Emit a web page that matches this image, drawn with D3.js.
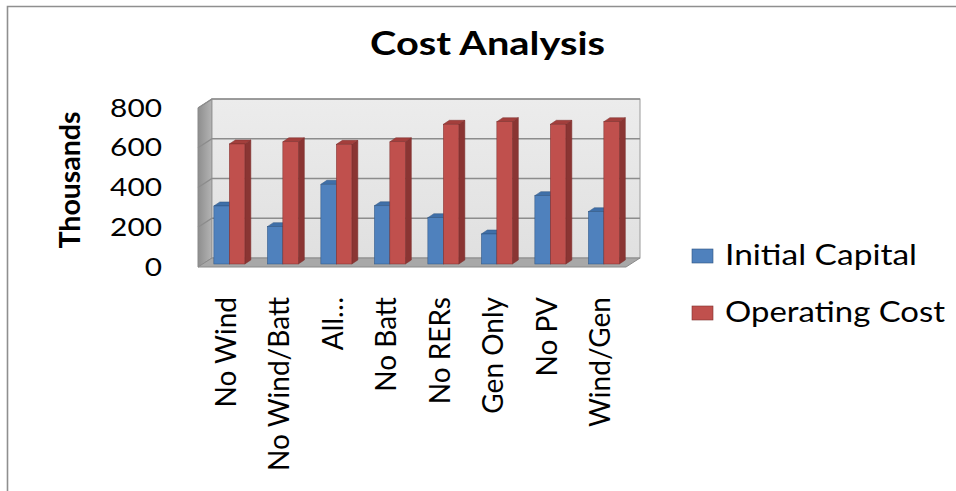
<!DOCTYPE html>
<html>
<head>
<meta charset="utf-8">
<script src="https://cdn.jsdelivr.net/npm/d3@7"></script>
<style>
  body { margin: 0; background: #fff; }
  text { font-family: Lato, "Open Sans", sans-serif; fill: #000; }
</style>
</head>
<body>
<script>
const width = 956;
const height = 491;

// data
const categories = ['No Wind', 'No Wind/Batt', 'All…', 'No Batt', 'No RERs', 'Gen Only', 'No PV', 'Wind/Gen'];
const initialCapital = [292, 188, 401, 293, 233, 151, 344, 263];
const operatingCost = [604, 615, 602, 615, 703, 716, 703, 716];
const seriesNames = ['Initial Capital', 'Operating Cost'];
const yTicks = [0, 200, 400, 600, 800];

const seriesColors = {
    'Initial Capital': { front: '#4f81bd', side: '#35608f', top: '#3f6fa8', edge: '#2f5480' },
    'Operating Cost': { front: '#c0504d', side: '#8a3533', top: '#a33f3c', edge: '#7d2f2d' }
};

// 3d geometry of the plot box
const wallDx = 14, wallDy = -9;       // depth of the walls
const barDx = 4.6, barDy = -3;        // bar plane offset inside the box
const barDepthX = 6, barDepthY = -4;  // visible bar thickness

const xScale = d3.scaleBand()
    .domain(categories)
    .range([198, 626]);
const xInner = d3.scaleBand()
    .domain(seriesNames)
    .range([0, xScale.bandwidth()])
    .paddingOuter(0.726);
const yScale = d3.scaleLinear()
    .domain([0, 800])
    .range([267, 108]);

const svg = d3.select('body')
    .append('svg')
        .attr('width', width)
        .attr('height', height);

const defs = svg.append('defs');
const sideGrad = defs.append('linearGradient').attr('id', 'sideWall')
    .attr('x1', 0).attr('y1', 0).attr('x2', 1).attr('y2', 0);
sideGrad.append('stop').attr('offset', '0%').attr('stop-color', '#8e8e8e');
sideGrad.append('stop').attr('offset', '100%').attr('stop-color', '#b4b4b4');
const backGrad = defs.append('linearGradient').attr('id', 'backWall')
    .attr('x1', 0).attr('y1', 0).attr('x2', 0).attr('y2', 1);
backGrad.append('stop').attr('offset', '0%').attr('stop-color', '#ececec');
backGrad.append('stop').attr('offset', '100%').attr('stop-color', '#e0e0e0');

// outer frame
svg.append('path')
    .attr('d', `M7.5,${height} V6.5 H${width}`)
    .attr('fill', 'none')
    .attr('stroke', '#8f8f8f')
    .attr('stroke-width', 1.6);

const x0 = xScale.range()[0], x1 = xScale.range()[1];
const y0 = yScale(0), yTop = yScale(800);

// side wall
svg.append('polygon')
    .attr('points', [[x0, yTop], [x0 + wallDx, yTop + wallDy], [x0 + wallDx, y0 + wallDy], [x0, y0]].join(' '))
    .attr('fill', 'url(#sideWall)')
    .attr('stroke', '#8a8a8a')
    .attr('stroke-width', 1);
// back wall
svg.append('rect')
    .attr('x', x0 + wallDx)
    .attr('y', yTop + wallDy)
    .attr('width', x1 - x0)
    .attr('height', y0 - yTop)
    .attr('fill', 'url(#backWall)')
    .attr('stroke', '#9a9a9a')
    .attr('stroke-width', 1);
// floor
svg.append('polygon')
    .attr('points', [[x0, y0], [x0 + wallDx, y0 + wallDy], [x1 + wallDx, y0 + wallDy], [x1, y0]].join(' '))
    .attr('fill', '#a8a8a8')
    .attr('stroke', '#8a8a8a')
    .attr('stroke-width', 1);

// gridlines
yTicks.filter(t => t > 0).forEach(t => {
    const y = yScale(t);
    svg.append('polyline')
        .attr('points', [[x0, y], [x0 + wallDx, y + wallDy], [x1 + wallDx, y + wallDy]].join(' '))
        .attr('fill', 'none')
        .attr('stroke', '#8c8c8c')
        .attr('stroke-width', 1.3);
});

// bars
const barData = [];
categories.forEach((c, i) => {
    barData.push({ cat: c, series: 'Initial Capital', value: initialCapital[i] });
    barData.push({ cat: c, series: 'Operating Cost', value: operatingCost[i] });
});

const bars = svg.selectAll('g.bar')
    .data(barData)
    .enter()
    .append('g')
        .attr('class', 'bar');

bars.each(function(d) {
    const g = d3.select(this);
    const col = seriesColors[d.series];
    const bx = xScale(d.cat) + xInner(d.series) + barDx;
    const bw = xInner.bandwidth();
    const yb = yScale(0) + barDy;
    const yt = yScale(d.value) + barDy;
    // side face
    g.append('polygon')
        .attr('points', [[bx + bw, yt], [bx + bw + barDepthX, yt + barDepthY], [bx + bw + barDepthX, yb + barDepthY], [bx + bw, yb]].join(' '))
        .attr('fill', col.side)
        .attr('stroke', col.edge)
        .attr('stroke-width', 0.5);
    // top face
    g.append('polygon')
        .attr('points', [[bx, yt], [bx + barDepthX, yt + barDepthY], [bx + bw + barDepthX, yt + barDepthY], [bx + bw, yt]].join(' '))
        .attr('fill', col.top)
        .attr('stroke', col.edge)
        .attr('stroke-width', 0.5);
    // front face
    g.append('rect')
        .attr('x', bx)
        .attr('y', yt)
        .attr('width', bw)
        .attr('height', yb - yt)
        .attr('fill', col.front)
        .attr('stroke', col.edge)
        .attr('stroke-width', 0.5);
});

// y axis
const yAxis = d3.axisLeft(yScale)
    .tickValues(yTicks)
    .tickSize(0)
    .tickPadding(36);
const yAxisG = svg.append('g')
    .attr('transform', `translate(${x0}, 0)`)
    .call(yAxis);
yAxisG.select('.domain').remove();
yAxisG.selectAll('text')
    .style('font-family', 'Lato, sans-serif')
    .style('font-size', '25px')
    .attr('fill', '#000')
    .attr('textLength', d => String(d).length * 17.3)
    .attr('lengthAdjust', 'spacingAndGlyphs');

// category labels
svg.selectAll('text.cat')
    .data(categories)
    .enter()
    .append('text')
        .attr('class', 'cat')
        .attr('transform', d => `translate(${xScale(d) + xScale.bandwidth() / 2 + 11}, 297) rotate(-90)`)
        .attr('text-anchor', 'end')
        .style('font-size', '28px')
        .text(d => d);

// axis title
svg.append('text')
    .attr('transform', 'translate(80, 180) rotate(-90)')
    .attr('text-anchor', 'middle')
    .style('font-size', '29px')
    .style('font-weight', 'bold')
    .attr('textLength', 137)
    .attr('lengthAdjust', 'spacingAndGlyphs')
    .text('Thousands');

// title
svg.append('text')
    .attr('x', 487.5)
    .attr('y', 55)
    .attr('text-anchor', 'middle')
    .style('font-size', '32px')
    .style('font-weight', 'bold')
    .attr('textLength', 235)
    .attr('lengthAdjust', 'spacingAndGlyphs')
    .text('Cost Analysis');

// legend
const legendY = [256, 313];
const legendWidths = [192, 220];
const legend = svg.selectAll('g.legend')
    .data(seriesNames)
    .enter()
    .append('g')
        .attr('class', 'legend')
        .attr('transform', (d, i) => `translate(692, ${legendY[i]})`);
legend.append('rect')
    .attr('x', 0)
    .attr('y', -7)
    .attr('width', 21)
    .attr('height', 14)
    .attr('fill', d => seriesColors[d].front)
    .attr('stroke', d => seriesColors[d].edge)
    .attr('stroke-width', 0.6);
legend.append('text')
    .attr('x', 33)
    .attr('y', 9)
    .style('font-size', '28px')
    .attr('textLength', (d, i) => legendWidths[i])
    .attr('lengthAdjust', 'spacingAndGlyphs')
    .text(d => d);
</script>
</body>
</html>
